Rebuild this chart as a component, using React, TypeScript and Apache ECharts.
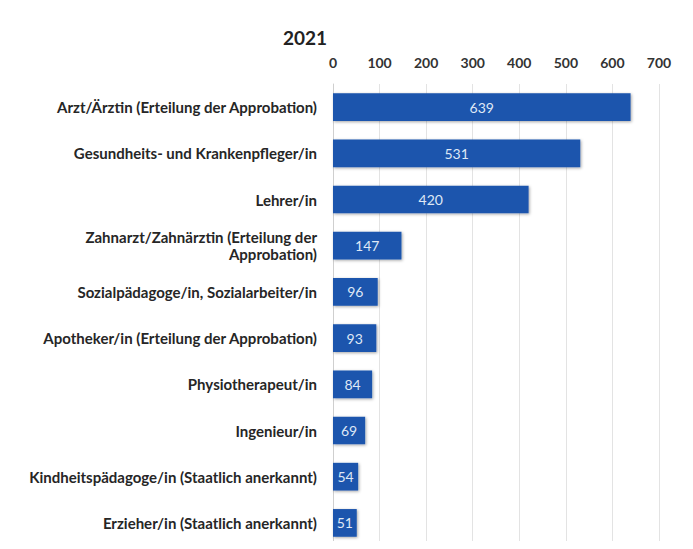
import React, { useEffect, useRef } from "react";
import * as echarts from "echarts";

const categories = [
  "Arzt/Ärztin (Erteilung der Approbation)",
  "Gesundheits- und Krankenpfleger/in",
  "Lehrer/in",
  "Zahnarzt/Zahnärztin (Erteilung der\nApprobation)",
  "Sozialpädagoge/in, Sozialarbeiter/in",
  "Apotheker/in (Erteilung der Approbation)",
  "Physiotherapeut/in",
  "Ingenieur/in",
  "Kindheitspädagoge/in (Staatlich anerkannt)",
  "Erzieher/in (Staatlich anerkannt)",
];
const values = [639, 531, 420, 147, 96, 93, 84, 69, 54, 51];
const title = "2021";

const FONT = "Lato, 'Open Sans', sans-serif";

export default function App() {
  const ref = useRef<HTMLDivElement>(null);
  useEffect(() => {
    if (!ref.current) return;
    const chart = echarts.init(ref.current, undefined, { renderer: "svg" });
    chart.setOption({
      animation: false,
      backgroundColor: "#ffffff",
      title: {
        text: title,
        left: 278,
        top: 23,
        textStyle: { fontFamily: FONT, fontWeight: "bold", fontSize: 19, color: "#222" },
      },
      grid: { left: 333, right: 34, top: 84, bottom: 3, containLabel: false },
      xAxis: {
        type: "value",
        position: "top",
        min: 0,
        max: 700,
        interval: 100,
        axisLine: { show: false },
        axisTick: { show: false },
        axisLabel: { margin: 15, fontFamily: FONT, fontWeight: "bold", fontSize: 14, color: "#333" },
        splitLine: { show: true, lineStyle: { color: "#e3e3e3", width: 1 } },
      },
      yAxis: {
        type: "category",
        inverse: true,
        data: categories,
        axisLine: { show: true, lineStyle: { color: "#cfcfcf" } },
        axisTick: { show: false },
        axisLabel: {
          margin: 16,
          fontFamily: FONT,
          fontWeight: "bold",
          fontSize: 15,
          color: "#262626",
          align: "right",
          lineHeight: 17,
        },
      },
      series: [
        {
          type: "bar",
          data: values,
          barWidth: "60%",
          itemStyle: {
            color: "#1d55ad",
            shadowColor: "rgba(0,0,0,0.35)",
            shadowBlur: 3,
            shadowOffsetX: 1,
            shadowOffsetY: 1,
          },
          label: {
            show: true,
            position: "inside",
            fontFamily: FONT,
            fontSize: 14,
            color: "#dfe8f6",
          },
        },
      ],
    });
    return () => chart.dispose();
  }, []);
  return <div ref={ref} style={{ width: 693, height: 549, margin: -8 }} />;
}
